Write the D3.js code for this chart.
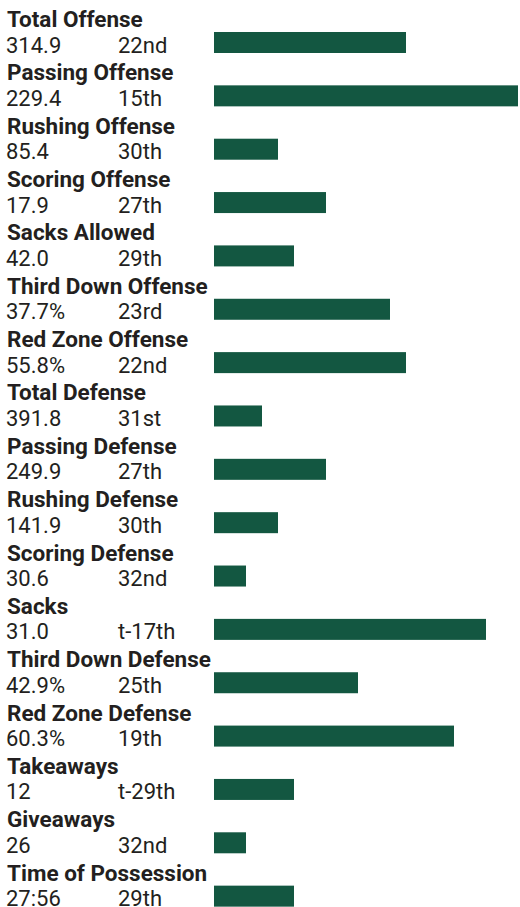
<!DOCTYPE html>
<html>
<head>
<meta charset="utf-8">
<script src="https://cdn.jsdelivr.net/npm/d3@7"></script>
<style>
  body { margin: 0; background: #fff; }
  text { font-family: Roboto, "Noto Sans", sans-serif; fill: #231f20; }
</style>
</head>
<body>
<svg id="chart"></svg>
<script>
// stat categories, values and league ranks
const categories = ['Total Offense', 'Passing Offense', 'Rushing Offense', 'Scoring Offense',
  'Sacks Allowed', 'Third Down Offense', 'Red Zone Offense', 'Total Defense', 'Passing Defense',
  'Rushing Defense', 'Scoring Defense', 'Sacks', 'Third Down Defense', 'Red Zone Defense',
  'Takeaways', 'Giveaways', 'Time of Possession'];
const values = ['314.9', '229.4', '85.4', '17.9', '42.0', '37.7%', '55.8%', '391.8', '249.9',
  '141.9', '30.6', '31.0', '42.9%', '60.3%', '12', '26', '27:56'];
const ranks = ['22nd', '15th', '30th', '27th', '29th', '23rd', '22nd', '31st', '27th',
  '30th', '32nd', 't-17th', '25th', '19th', 't-29th', '32nd', '29th'];
// bar length = rank points (34 - rank)
const scores = [12, 19, 4, 7, 5, 11, 12, 3, 7, 4, 2, 17, 9, 15, 5, 2, 5];

const width = 520, height = 907;
const rowH = height / categories.length;

const svg = d3.select('#chart')
  .attr('width', width)
  .attr('height', height)
  .attr('viewBox', [0, 0, width, height]);

const x = d3.scaleLinear().domain([0, 19]).range([214, 518]);

const rows = svg.selectAll('g.row')
  .data(categories)
  .join('g')
  .attr('class', 'row')
  .attr('transform', (d, i) => `translate(0,${i * rowH})`);

rows.append('text')
  .attr('x', 7)
  .attr('y', 27)
  .attr('font-size', 22.5)
  .attr('font-weight', 'bold')
  .text(d => d);

rows.append('text')
  .attr('x', 6)
  .attr('y', 52.5)
  .attr('font-size', 22)
  .text((d, i) => values[i]);

rows.append('text')
  .attr('x', 118)
  .attr('y', 52.5)
  .attr('font-size', 22)
  .text((d, i) => ranks[i]);

rows.append('rect')
  .attr('x', x(0))
  .attr('y', 32)
  .attr('height', 21)
  .attr('width', (d, i) => x(scores[i]) - x(0))
  .attr('fill', '#135741');
</script>
</body>
</html>
